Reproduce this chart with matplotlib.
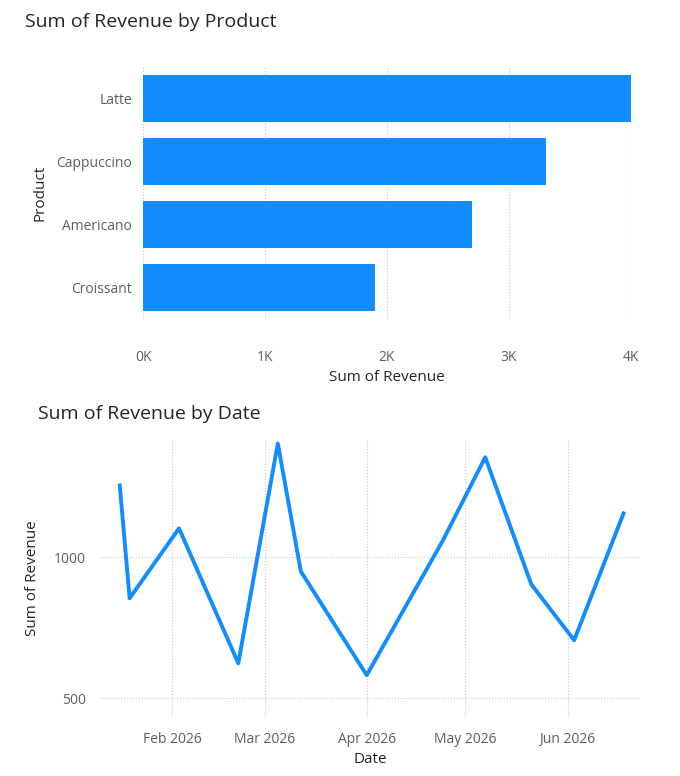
import matplotlib
matplotlib.use("Agg")
import matplotlib.pyplot as plt
import matplotlib.dates as mdates
import numpy as np
import datetime as dt

plt.rcParams['font.family'] = ['Open Sans', 'DejaVu Sans']

products = ["Latte", "Cappuccino", "Americano", "Croissant"]
product_revenue = [4000, 3300, 2700, 1900]

dates = ["2026-01-16", "2026-01-19", "2026-02-03", "2026-02-21", "2026-03-05", "2026-03-12",
         "2026-04-01", "2026-04-24", "2026-05-07", "2026-05-21", "2026-06-03", "2026-06-18"]
date_revenue = [1255, 855, 1103, 624, 1404, 950, 582, 1057, 1355, 904, 706, 1156]

blue = "#118DFF"
W, H = 680, 776
fig = plt.figure(figsize=(W/100, H/100), dpi=100)

# Top chart
ax1 = fig.add_axes([143/W, 1-319/H, 488/W, 252/H])
y = np.arange(len(products))
ax1.barh(y, product_revenue, height=0.75, color=blue, zorder=2)
ax1.set_ylim(len(products)-0.5, -0.5)
ax1.set_yticks(y)
ax1.set_yticklabels(products)
ax1.set_xlim(0, 4000)
ax1.set_xticks([0, 1000, 2000, 3000, 4000])
ax1.set_xticklabels(["0K", "1K", "2K", "3K", "4K"])
ax1.grid(axis='x', linestyle=':', color='#C8C8C8', zorder=0)
for s in ax1.spines.values():
    s.set_visible(False)
ax1.tick_params(length=0, labelsize=10, colors='#605E5C', pad=8)
ax1.tick_params(axis='x', pad=22)
ax1.set_xlabel("Sum of Revenue", fontsize=11, color='#252423', labelpad=4)
ax1.set_ylabel("Product", fontsize=11, color='#252423', labelpad=6)
fig.text(25/W, 1-22/H, "Sum of Revenue by Product", fontsize=14, color='#252423', va='center')

# Bottom chart
ax2 = fig.add_axes([100/W, 1-718/H, 540/W, 279/H])
d = [dt.datetime.strptime(s, "%Y-%m-%d") for s in dates]
ax2.plot(d, date_revenue, color=blue, linewidth=2.8)
ax2.set_xlim(dt.datetime(2026, 1, 10), dt.datetime(2026, 6, 23))
ax2.set_ylim(430, 1420)
ax2.set_yticks([500, 1000])
ax2.xaxis.set_major_locator(mdates.MonthLocator(bymonth=[2, 3, 4, 5, 6]))
ax2.xaxis.set_major_formatter(mdates.DateFormatter("%b %Y"))
ax2.grid(True, linestyle=':', color='#C8C8C8')
for s in ax2.spines.values():
    s.set_visible(False)
ax2.tick_params(length=0, labelsize=10, colors='#605E5C', pad=10)
ax2.set_xlabel("Date", fontsize=11, color='#252423', labelpad=4)
ax2.set_ylabel("Sum of Revenue", fontsize=11, color='#252423', labelpad=10)
fig.text(38/W, 1-414/H, "Sum of Revenue by Date", fontsize=14, color='#252423', va='center')

fig.savefig("out.png", dpi=100)
